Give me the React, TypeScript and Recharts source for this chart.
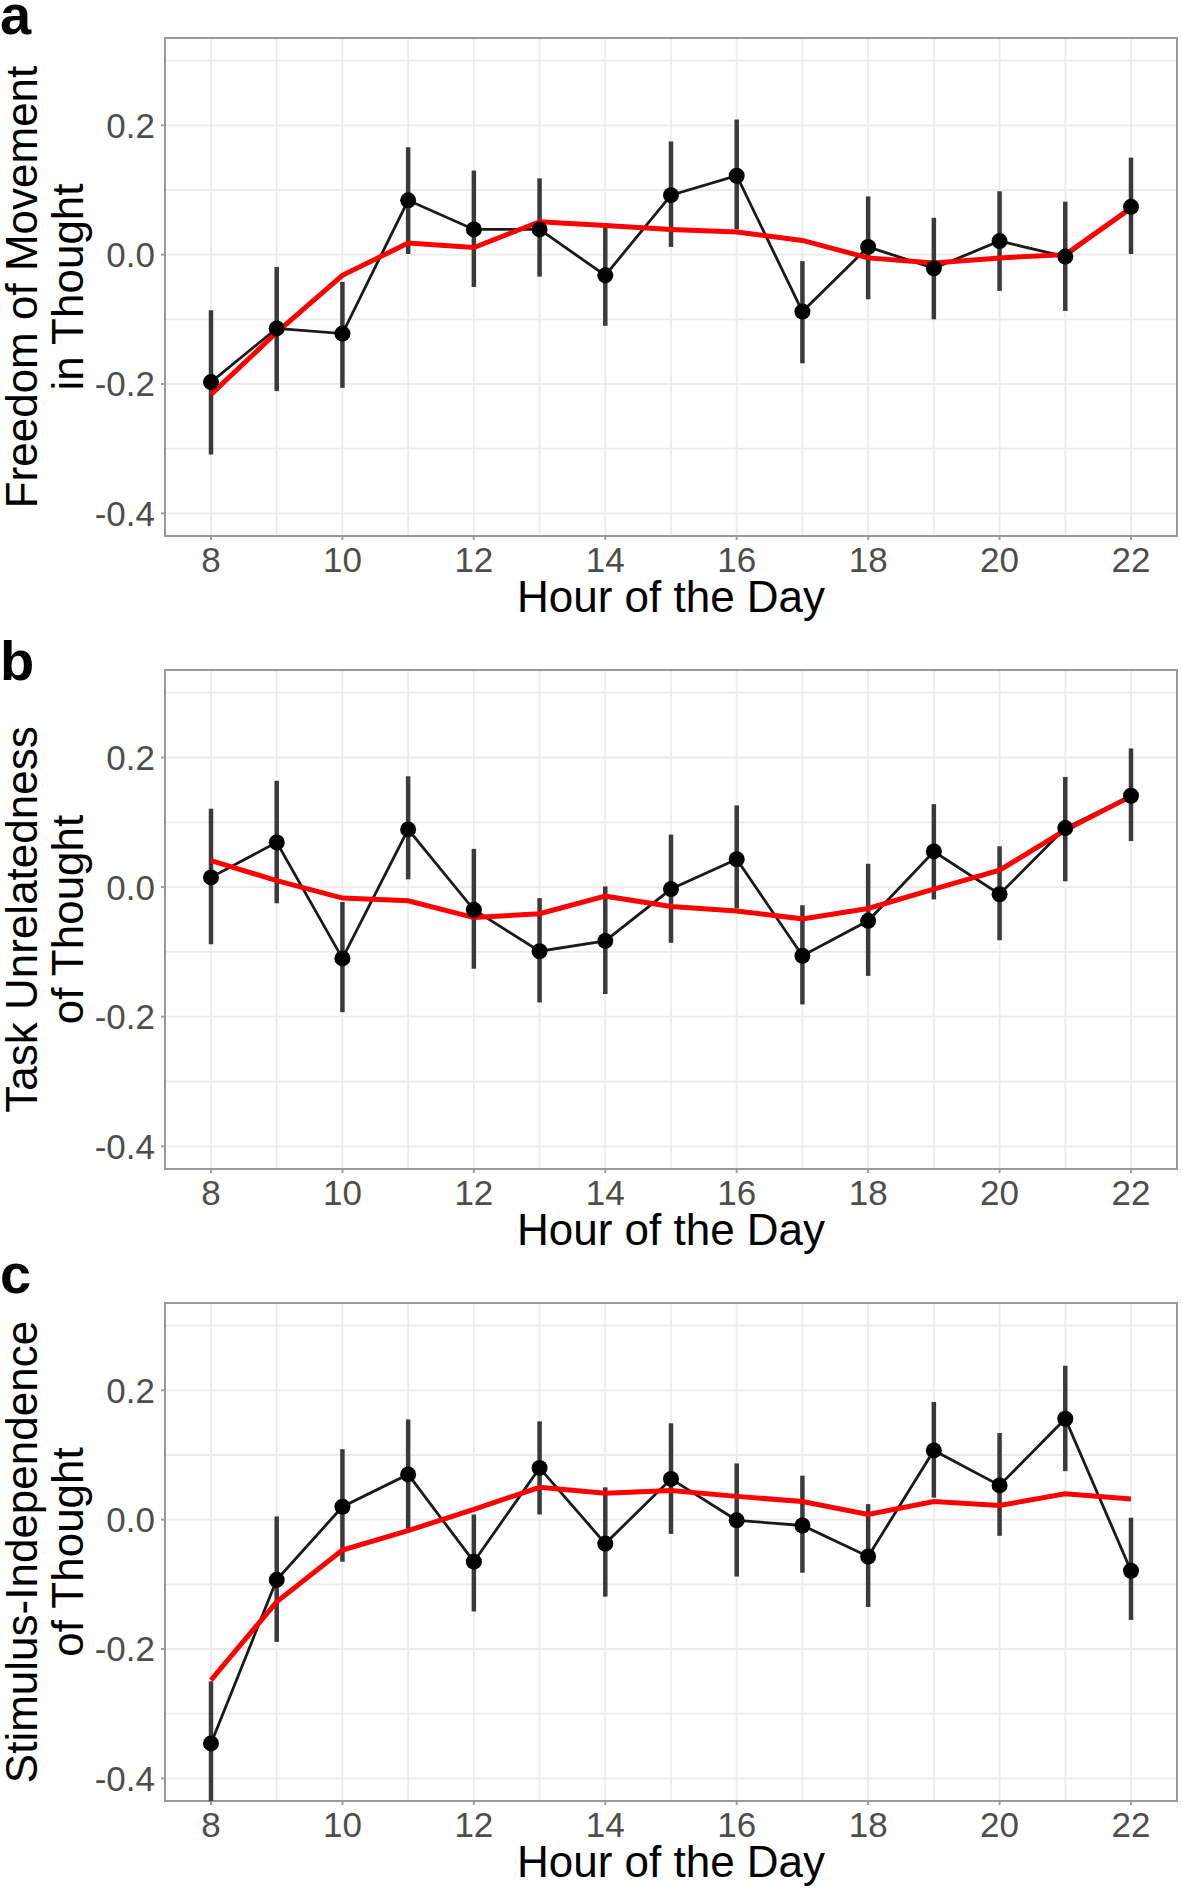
import React from "react";
import {
  LineChart,
  Line,
  XAxis,
  YAxis,
  ErrorBar,
  CartesianGrid,
  ReferenceArea,
} from "recharts";

const hours = [8, 9, 10, 11, 12, 13, 14, 15, 16, 17, 18, 19, 20, 21, 22];
const xTicks = [8, 10, 12, 14, 16, 18, 20, 22];
const yTicks = [-0.4, -0.2, 0, 0.2];
const yGridValues = [-0.4, -0.3, -0.2, -0.1, 0, 0.1, 0.2, 0.3];
const xDomain = [7.3, 22.7];
const yDomain = [-0.435, 0.335];

// a: freedom of movement
const aMean = [-0.197, -0.114, -0.122, 0.084, 0.039, 0.039, -0.032, 0.092, 0.122, -0.088, 0.012, -0.021, 0.021, -0.003, 0.074];
const aLow = [-0.309, -0.211, -0.206, 0.001, -0.05, -0.034, -0.11, 0.012, 0.039, -0.168, -0.069, -0.1, -0.056, -0.087, 0.001];
const aHigh = [-0.086, -0.019, -0.042, 0.166, 0.13, 0.118, 0.049, 0.175, 0.209, -0.01, 0.09, 0.057, 0.098, 0.082, 0.15];
const aTrend = [-0.216, -0.12, -0.032, 0.018, 0.011, 0.051, 0.045, 0.039, 0.035, 0.022, -0.005, -0.013, -0.005, 0.0, 0.072];

// b: task unrelatedness
const bMean = [0.015, 0.069, -0.11, 0.089, -0.035, -0.099, -0.083, -0.003, 0.043, -0.106, -0.052, 0.055, -0.011, 0.091, 0.141];
const bLow = [-0.088, -0.025, -0.193, 0.012, -0.126, -0.178, -0.165, -0.086, -0.033, -0.181, -0.137, -0.019, -0.082, 0.009, 0.071];
const bHigh = [0.121, 0.164, -0.023, 0.171, 0.059, -0.017, 0.001, 0.081, 0.126, -0.028, 0.036, 0.128, 0.063, 0.17, 0.214];
const bTrend = [0.041, 0.01, -0.017, -0.021, -0.047, -0.041, -0.014, -0.03, -0.037, -0.049, -0.033, -0.003, 0.026, 0.088, 0.14];

// c: stimulus independence
const cMean = [-0.346, -0.093, 0.02, 0.07, -0.065, 0.08, -0.037, 0.063, -0.001, -0.009, -0.057, 0.107, 0.053, 0.156, -0.079];
const cLow = [-0.435, -0.189, -0.065, -0.014, -0.142, 0.008, -0.119, -0.022, -0.088, -0.082, -0.135, 0.034, -0.025, 0.075, -0.155];
const cHigh = [-0.25, 0.005, 0.109, 0.155, 0.008, 0.152, 0.05, 0.149, 0.087, 0.068, 0.024, 0.182, 0.134, 0.238, 0.003];
const cTrend = [-0.248, -0.127, -0.047, -0.017, 0.016, 0.05, 0.041, 0.045, 0.036, 0.028, 0.008, 0.028, 0.022, 0.04, 0.032];

const FONT = "'Liberation Sans', Arial, sans-serif";
const W = 1181;
const PLOT_LEFT = 165;
const PLOT_RIGHT = 1177;

interface PanelProps {
  top: number;
  height: number;
  plotTop: number;
  plotBottom: number;
  letter: string;
  letterY: number;
  title: string[];
  mean: number[];
  low: number[];
  high: number[];
  trend: number[];
}

function Panel({ top, height, plotTop, plotBottom, letter, letterY, title, mean, low, high, trend }: PanelProps) {
  const data = hours.map((h, i) => ({
    hour: h,
    mean: mean[i],
    err: [mean[i] - low[i], high[i] - mean[i]],
    trend: trend[i],
  }));
  const mid = (plotTop + plotBottom) / 2 - top;
  const xMid = (PLOT_LEFT + PLOT_RIGHT) / 2;

  return (
    <div style={{ position: "absolute", left: 0, top, width: W, height, fontFamily: FONT }}>
      <LineChart
        width={W}
        height={height}
        data={data}
        margin={{ top: plotTop - top, right: W - PLOT_RIGHT, bottom: 0, left: 0 }}
      >
        <CartesianGrid
          horizontalValues={yGridValues}
          verticalValues={hours}
          stroke="#ebebeb"
          strokeWidth={1.8}
        />
        <XAxis
          dataKey="hour"
          type="number"
          domain={xDomain}
          ticks={xTicks}
          allowDataOverflow
          axisLine={false}
          tickSize={4}
          tickMargin={7}
          tickLine={{ stroke: "#9e9e9e", strokeWidth: 2 }}
          tick={{ fontSize: 35, fill: "#4d4d4d" }}
          height={top + height - plotBottom}
        />
        <YAxis
          type="number"
          domain={yDomain}
          ticks={yTicks}
          allowDataOverflow
          axisLine={false}
          tickSize={4}
          tickMargin={6}
          tickLine={{ stroke: "#9e9e9e", strokeWidth: 2 }}
          tick={{ fontSize: 35, fill: "#4d4d4d" }}
          tickFormatter={(v: number) => v.toFixed(1)}
          width={PLOT_LEFT}
        />
        <Line
          dataKey="mean"
          type="linear"
          stroke="#1a1a1a"
          strokeWidth={2.8}
          dot={{ r: 8, fill: "#000", stroke: "#000", strokeWidth: 0 }}
          activeDot={false}
          isAnimationActive={false}
        >
          <ErrorBar dataKey="err" width={0} stroke="#3a3a3a" strokeWidth={4.5} direction="y" />
        </Line>
        <Line
          dataKey="trend"
          type="linear"
          stroke="#ff0000"
          strokeWidth={5}
          dot={false}
          activeDot={false}
          isAnimationActive={false}
        />
        <ReferenceArea
          x1={xDomain[0]}
          x2={xDomain[1]}
          y1={yDomain[0]}
          y2={yDomain[1]}
          fill="none"
          fillOpacity={0}
          stroke="#999999"
          strokeWidth={2}
          ifOverflow="visible"
        />
      </LineChart>
      <svg
        width={W}
        height={height}
        style={{ position: "absolute", left: 0, top: 0, pointerEvents: "none", fontFamily: FONT }}
      >
        <text x={0} y={letterY - top} fontSize={56} fontWeight="bold" fill="#000">
          {letter}
        </text>
        {title.map((t, i) => {
          const x = i === 0 ? 37 : 83;
          return (
            <text
              key={t}
              x={x}
              y={mid}
              transform={`rotate(-90 ${x} ${mid})`}
              textAnchor="middle"
              fontSize={44}
              fill="#000"
            >
              {t}
            </text>
          );
        })}
        <text x={xMid} y={plotBottom - top + 76} textAnchor="middle" fontSize={44} fill="#000">
          Hour of the Day
        </text>
      </svg>
    </div>
  );
}

export default function App() {
  return (
    <div style={{ position: "absolute", left: 0, top: 0, width: W, height: 1892, background: "#fff" }}>
      <Panel
        top={0}
        height={630}
        plotTop={38}
        plotBottom={536}
        letter="a"
        letterY={34}
        title={["Freedom of Movement", "in Thought"]}
        mean={aMean}
        low={aLow}
        high={aHigh}
        trend={aTrend}
      />
      <Panel
        top={630}
        height={625}
        plotTop={670}
        plotBottom={1169}
        letter="b"
        letterY={680}
        title={["Task Unrelatedness", "of Thought"]}
        mean={bMean}
        low={bLow}
        high={bHigh}
        trend={bTrend}
      />
      <Panel
        top={1255}
        height={637}
        plotTop={1303}
        plotBottom={1801}
        letter="c"
        letterY={1293}
        title={["Stimulus-Independence", "of Thought"]}
        mean={cMean}
        low={cLow}
        high={cHigh}
        trend={cTrend}
      />
    </div>
  );
}
